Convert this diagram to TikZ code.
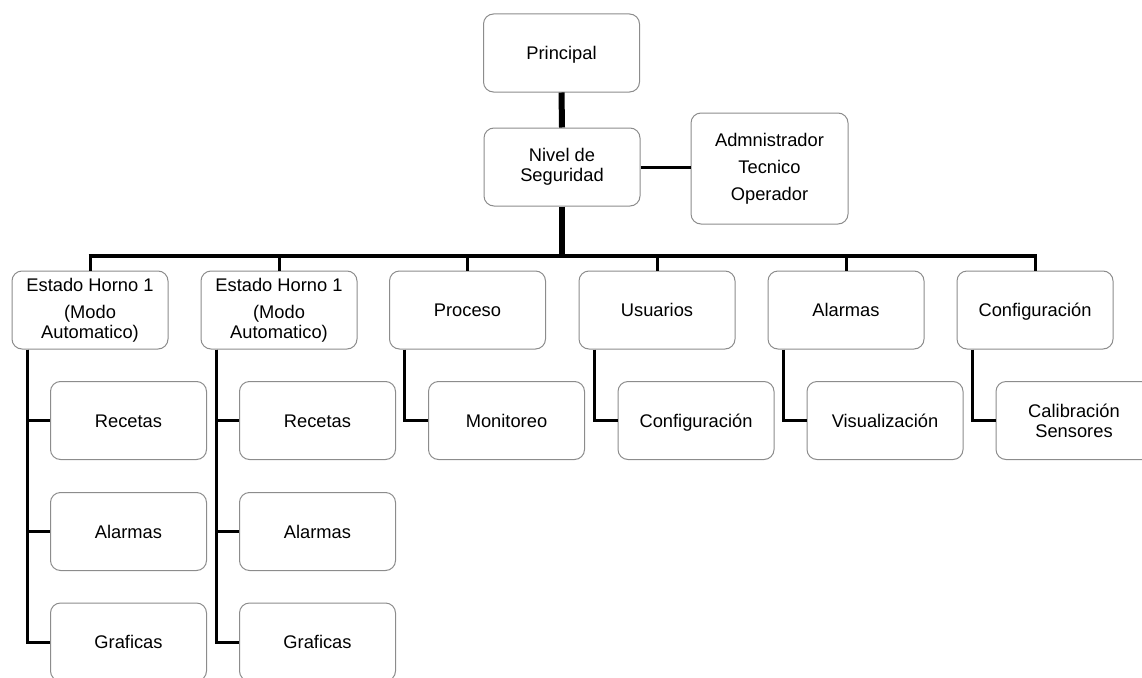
\documentclass[tikz,border=0pt]{standalone}
\usepackage{fontspec}
\setmainfont{Liberation Sans}
\definecolor{boxline}{RGB}{140,140,140}
\begin{document}
\begin{tikzpicture}[x=1pt,y=-1pt,
  box/.style={draw=boxline,line width=1pt,rounded corners=10pt,fill=white,
    minimum width=156pt,minimum height=78pt,inner sep=2pt,align=center,
    font=\fontsize{18.3}{20}\selectfont},
  oneline/.style={text height=13.4pt,text depth=0pt},
  link/.style={line width=3pt,black}]
\useasboundingbox (0,0) rectangle (1142,677);
\clip (0,0) rectangle (1142,677);

% top of the tree
\node[box,oneline] (prin) at (561.5,53) {Principal};
\node[box] (niv) at (562,167) {Nivel de\\Seguridad};
\node[box,minimum width=157pt,minimum height=111pt] (adm) at (769.5,168.5)
  {Admnistrador\\[7pt]Tecnico\\[7pt]Operador};

% first level
\node[box] (h1) at (90,310) {Estado Horno 1\\[7pt](Modo\\Automatico)};
\node[box] (h2) at (279,310) {Estado Horno 1\\[7pt](Modo\\Automatico)};
\node[box,oneline] (h3) at (467.5,310) {Proceso};
\node[box,oneline] (h4) at (657,310) {Usuarios};
\node[box,oneline] (h5) at (846,310) {Alarmas};
\node[box,oneline] (h6) at (1035,310) {Configuración};

% second level
\node[box,oneline] (c11) at (128.5,420.5) {Recetas};
\node[box,oneline] (c12) at (128.5,531.5) {Alarmas};
\node[box,oneline] (c13) at (128.5,642) {Graficas};
\node[box,oneline] (c21) at (317.5,420.5) {Recetas};
\node[box,oneline] (c22) at (317.5,531.5) {Alarmas};
\node[box,oneline] (c23) at (317.5,642) {Graficas};
\node[box,oneline] (c31) at (506.5,420.5) {Monitoreo};
\node[box,oneline] (c41) at (696,420.5) {Configuración};
\node[box,oneline] (c51) at (885,420.5) {Visualización};
\node[box] (c61) at (1074,420.5) {Calibración\\Sensores};

% connectors
\coordinate (bar) at (0,256);
\draw[line width=6pt] (prin.south) -- (niv.north);
\draw[line width=6pt] (niv.south) -- (niv.south |- bar);
\draw[line width=3pt] (niv.east) -- (adm.west |- niv.east);
\draw[line width=4pt] ([xshift=-1.5pt]h1.north |- bar) -- ([xshift=1.5pt]h6.north |- bar);
\foreach \n in {h1,h2,h3,h4,h5,h6}
  \draw[link] (\n.north) -- (\n.north |- bar);

\foreach \p/\c in {h1/c11,h1/c12,h1/c13,h2/c21,h2/c22,h2/c23,h3/c31,h4/c41,h5/c51,h6/c61}
  \draw[link] ([xshift=-63pt]\p.south) |- (\c.west);
\end{tikzpicture}
\end{document}
